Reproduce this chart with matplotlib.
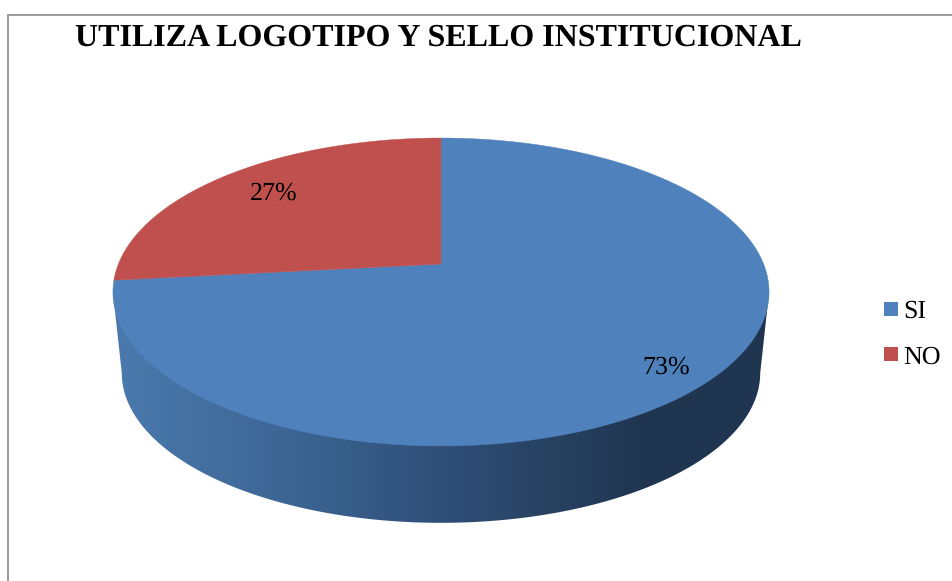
import numpy as np
import matplotlib
matplotlib.use("Agg")
import matplotlib.pyplot as plt
from matplotlib.colors import LinearSegmentedColormap
from matplotlib.patches import Polygon, Rectangle

categories = ["SI", "NO"]
values = [73.3, 26.7]
pct_labels = ["73%", "27%"]
title = "UTILIZA LOGOTIPO Y SELLO INSTITUCIONAL"
colors = ["#4f81bd", "#c0504d"]

W, H = 953, 581
plt.rcParams['font.family'] = ['Liberation Serif', 'DejaVu Serif']
plt.rcParams['text.hinting'] = 'none'
plt.rcParams['text.hinting_factor'] = 1
fig = plt.figure(figsize=(W / 100, H / 100), dpi=100)
ax = fig.add_axes([0, 0, 1, 1])
ax.set_xlim(0, W)
ax.set_ylim(H, 0)
ax.axis("off")

# perspective projection of a flat circle onto the page
CX, CY, K, A, C = 441.0, 264.0, 322.6, -100.9, 0.1818


def project(deg, dy=0.0, scale=1.0):
    """deg: clockwise from the top of the pie."""
    t = np.radians(deg)
    u, v = np.sin(t), np.cos(t)
    w = 1 + C * v
    x = CX + scale * K * u / w
    y = (CY + A * v) / w
    yc = 292.0
    return x, yc + (y - yc) * scale + dy


# side wall
full = np.linspace(0, 360, 721)
tx, ty = project(full)
bx, by = project(full, dy=81, scale=0.973)
i_r, i_l = np.argmax(tx), np.argmin(tx)
j_r, j_l = np.argmax(bx), np.argmin(bx)
outline = np.vstack([
    [tx[i_r], ty[i_r]],
    np.column_stack([bx[j_r:j_l + 1], by[j_r:j_l + 1]]),
    [tx[i_l], ty[i_l]],
])
clip = Polygon(outline, closed=True, transform=ax.transData, fc="none", ec="none")
ax.add_patch(clip)
grad = LinearSegmentedColormap.from_list("side", [
    (0.0, "#4a7aae"), (0.27, "#3d6593"), (0.50, "#2f4f78"),
    (0.62, "#2a4567"), (0.82, "#1f3550"), (1.0, "#1f3550")])
xmin, xmax = tx.min(), tx.max()
img = ax.imshow(np.linspace(0, 1, 400)[None, :], extent=[xmin, xmax, 530, 280],
                cmap=grad, aspect="auto", zorder=1)
img.set_clip_path(clip)
ax.set_xlim(0, W)
ax.set_ylim(H, 0)

# top face, one wedge per value
start = 0.0
total = sum(values)
for val, col in zip(values, colors):
    sweep = 360.0 * val / total
    ang = np.linspace(start, start + sweep, 300)
    x, y = project(ang)
    pts = np.vstack([[CX, CY], np.column_stack([x, y])])
    ax.add_patch(Polygon(pts, closed=True, fc=col, ec=col, lw=0.3, zorder=2))
    start += sweep

# value labels
ax.text(666.5, 367, pct_labels[0], fontsize=18.5, ha="center", va="center", zorder=3)
ax.text(274, 193.5, pct_labels[1], fontsize=18.5, ha="center", va="center", zorder=3)

# title
ax.text(75, 37.5, title, fontsize=22.9, fontweight="bold", ha="left", va="center", zorder=3)

# legend
for yy, ty_, lab, col in zip([309, 354], [311, 357], categories, colors):
    ax.add_patch(Rectangle((884, yy - 7), 14, 14, fc=col, ec="none", zorder=3))
    ax.text(903.5, ty_, lab, fontsize=19, ha="left", va="center", zorder=3)

# chart frame
ax.plot([8.5, 8.5, W], [H, 14.5, 14.5], color="#8c8c8c", lw=1.2, zorder=0,
        solid_joinstyle="miter", clip_on=False)

fig.savefig("out.png", dpi=100, facecolor="white")
